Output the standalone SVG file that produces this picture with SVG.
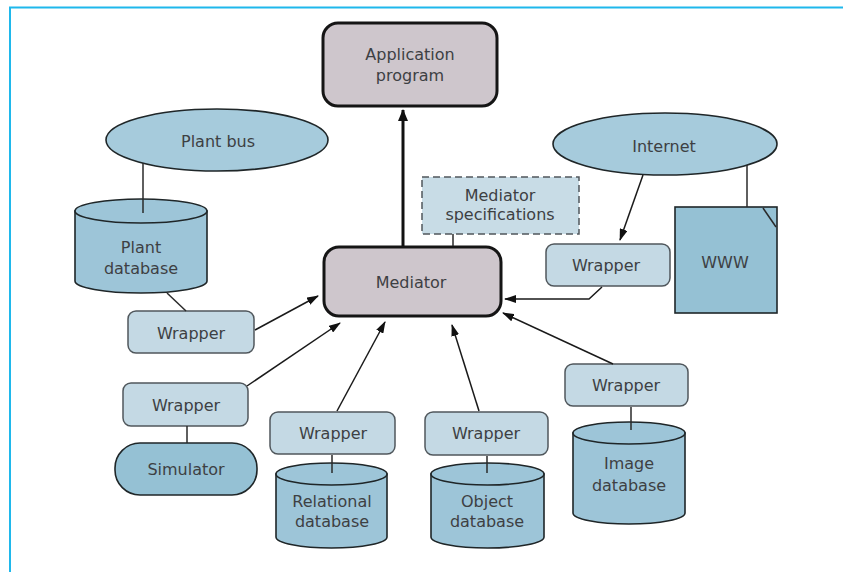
<svg xmlns="http://www.w3.org/2000/svg" width="843" height="572" viewBox="0 0 843 572">
<style>
text{font-family:"DejaVu Sans","Liberation Sans",sans-serif;font-size:16px;fill:#3d4043;text-anchor:middle}
.main{fill:#cec6cc;stroke:#151515;stroke-width:3}
.wrap{fill:#c4d9e4;stroke:#50575c;stroke-width:1.5}
.spec{fill:#c8dce6;stroke:#50575c;stroke-width:1.5;stroke-dasharray:7 4}
.db{fill:#9dc5d8;stroke:#1f2628;stroke-width:1.6}
.ell{fill:#a6cbdc;stroke:#1f2628;stroke-width:1.6}
.dark{fill:#95c1d4;stroke:#1f2628;stroke-width:1.6}
.ln{fill:none;stroke:#2a2a2a;stroke-width:1.5}
.ar{fill:none;stroke:#1a1a1a;stroke-width:1.5;marker-end:url(#ah)}
.arb{fill:none;stroke:#111;stroke-width:3;marker-end:url(#ahb)}
</style>
<defs>
<marker id="ah" viewBox="0 0 12 8" refX="11" refY="4" markerWidth="12" markerHeight="8" markerUnits="userSpaceOnUse" orient="auto">
<path d="M0,0 L12,4 L0,8 Z" fill="#111"/>
</marker>
<marker id="ahb" viewBox="0 0 12 10" refX="11" refY="5" markerWidth="12" markerHeight="10" markerUnits="userSpaceOnUse" orient="auto">
<path d="M0,0 L12,5 L0,10 Z" fill="#111"/>
</marker>
</defs>
<rect width="843" height="572" fill="#fff"/>
<path d="M10,572 V7.5 H843" fill="none" stroke="#1fb8ec" stroke-width="2"/>

<g id="app">
<rect class="main" x="323" y="23" width="174" height="83" rx="15"/>
<text x="410" y="60">Application</text>
<text x="410" y="81">program</text>
</g>

<g id="mediator">
<rect class="main" x="324" y="247" width="177" height="69" rx="15"/>
<text x="411" y="288">Mediator</text>
</g>

<g id="spec">
<rect class="spec" x="422" y="177" width="157" height="57"/>
<text x="500" y="201">Mediator</text>
<text x="500" y="220">specifications</text>
</g>

<g id="plantbus">
<ellipse class="ell" cx="217" cy="140" rx="111" ry="31"/>
<text x="218" y="147">Plant bus</text>
</g>

<g id="plantdb">
<path class="db" d="M75,211 V281 A66,12 0 0 0 207,281 V211 Z"/>
<ellipse class="db" cx="141" cy="211" rx="66" ry="12"/>
<text x="141" y="253">Plant</text>
<text x="141" y="274">database</text>
</g>

<g id="wrapper1">
<rect class="wrap" x="128" y="311" width="126" height="42" rx="8"/>
<text x="191" y="339">Wrapper</text>
</g>

<g id="wrapper2">
<rect class="wrap" x="123" y="383" width="125" height="43" rx="8"/>
<text x="186" y="411">Wrapper</text>
</g>

<g id="simulator">
<rect class="dark" x="115" y="443" width="142" height="52" rx="25"/>
<text x="186" y="475">Simulator</text>
</g>

<g id="wrapper3">
<rect class="wrap" x="270" y="412" width="125" height="42" rx="8"/>
<text x="333" y="439">Wrapper</text>
</g>

<g id="reldb">
<path class="db" d="M276,474 V537 A55.5,11 0 0 0 387,537 V474 Z"/>
<ellipse class="db" cx="331.5" cy="474" rx="55.5" ry="11"/>
<text x="332" y="507">Relational</text>
<text x="332" y="527">database</text>
</g>

<g id="wrapper4">
<rect class="wrap" x="425" y="412" width="123" height="43" rx="8"/>
<text x="486" y="439">Wrapper</text>
</g>

<g id="objdb">
<path class="db" d="M431,474 V537 A56.5,11 0 0 0 544,537 V474 Z"/>
<ellipse class="db" cx="487.5" cy="474" rx="56.5" ry="11"/>
<text x="487" y="507">Object</text>
<text x="487" y="527">database</text>
</g>

<g id="wrapper5">
<rect class="wrap" x="565" y="364" width="123" height="42" rx="8"/>
<text x="626" y="391">Wrapper</text>
</g>

<g id="imgdb">
<path class="db" d="M573,433 V513 A56,11 0 0 0 685,513 V433 Z"/>
<ellipse class="db" cx="629" cy="433" rx="56" ry="11"/>
<text x="629" y="469">Image</text>
<text x="629" y="491">database</text>
</g>

<g id="internet">
<ellipse class="ell" cx="665" cy="144" rx="112" ry="31"/>
<text x="664" y="152">Internet</text>
</g>

<g id="wrapper6">
<rect class="wrap" x="546" y="244" width="124" height="42" rx="8"/>
<text x="606" y="271">Wrapper</text>
</g>

<g id="www">
<rect class="dark" x="675" y="207" width="102" height="106"/>
<path class="ln" d="M763,208 L776,227"/>
<text x="725" y="268">WWW</text>
</g>

<g id="connectors">
<path class="arb" d="M403,246 V110"/>
<path class="ln" d="M453,234 V246"/>
<path class="ln" d="M143,163 V213"/>
<path class="ln" d="M167,293 L186,311"/>
<path class="ar" d="M255,330 L318,296"/>
<path class="ar" d="M247,386 L340,323"/>
<path class="ln" d="M187,426 V443"/>
<path class="ar" d="M337,411 L385,322"/>
<path class="ln" d="M332,455 V473"/>
<path class="ar" d="M479,411 L452,325"/>
<path class="ln" d="M487,456 V473"/>
<path class="ar" d="M613,364 L503,313"/>
<path class="ln" d="M631,407 V430"/>
<path class="ar" d="M643,175 L620,240"/>
<path class="ln" d="M747,165 V207"/>
<path class="ar" d="M602,287 L589,299 H505"/>
</g>
</svg>
